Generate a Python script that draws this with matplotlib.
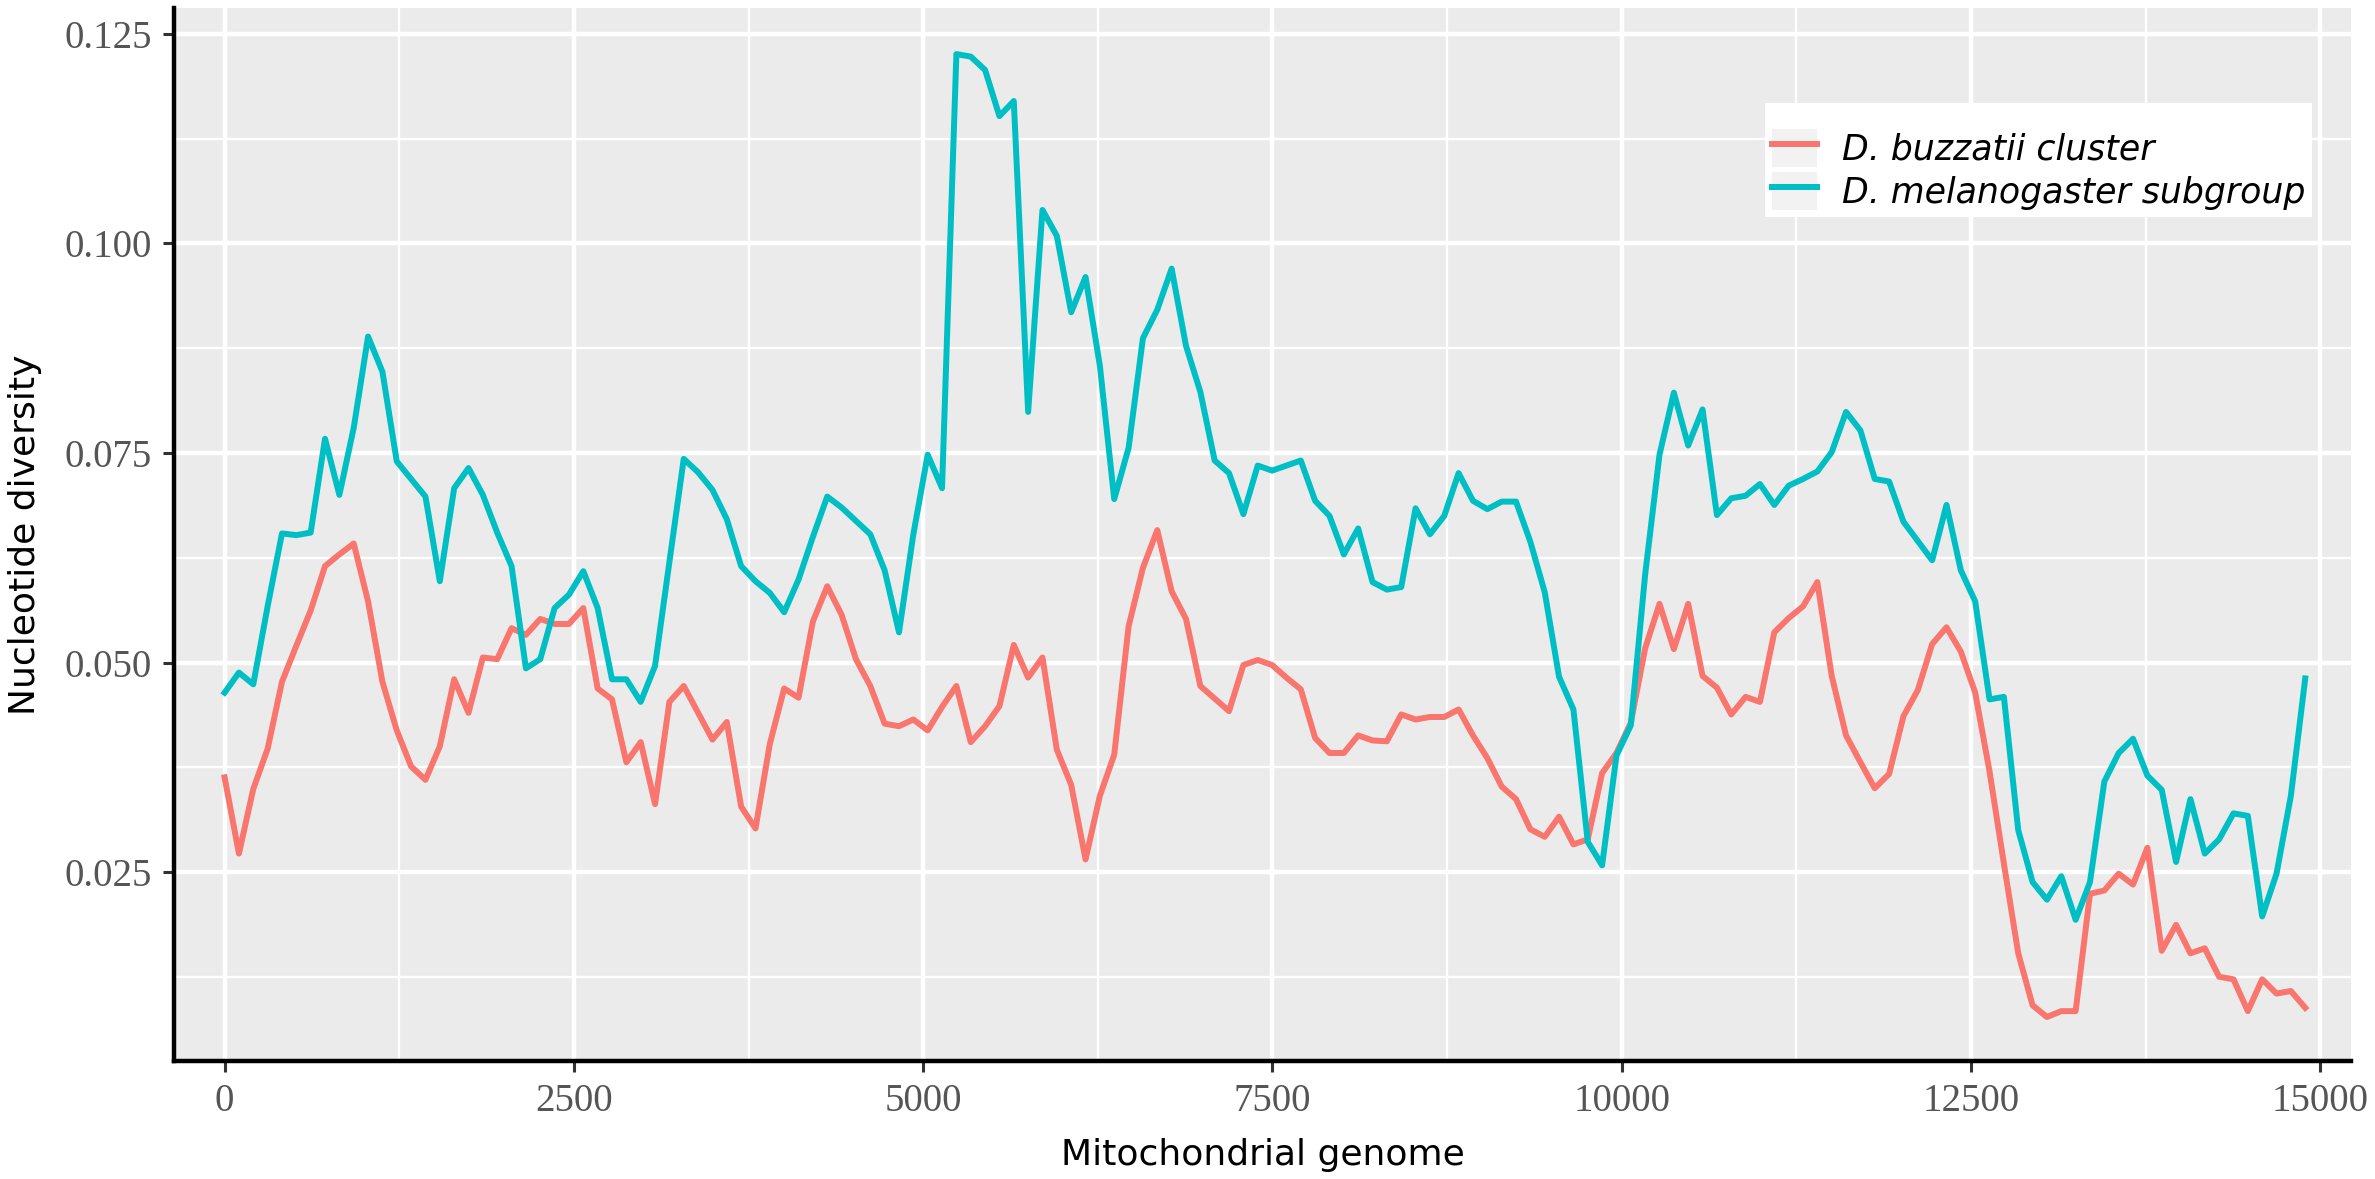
import numpy as np
import matplotlib
matplotlib.use("Agg")
import matplotlib.pyplot as plt
from matplotlib.patches import Rectangle
from matplotlib.lines import Line2D

# sliding-window nucleotide diversity along the mitochondrial genome
window_step = 102.7

buzzatii = [
    0.0363, 0.0272, 0.0349, 0.0397, 0.0477, 0.0520, 0.0562, 0.0615, 0.0629, 0.0642,
    0.0573, 0.0477, 0.0419, 0.0376, 0.0360, 0.0400, 0.0480, 0.0440, 0.0506, 0.0504,
    0.0541, 0.0533, 0.0552, 0.0546, 0.0546, 0.0565,
    0.0469, 0.0456, 0.0381, 0.0405, 0.0331, 0.0453, 0.0472, 0.0440, 0.0408, 0.0429,
    0.0328, 0.0302, 0.0403, 0.0469, 0.0458, 0.0549, 0.0591, 0.0557, 0.0504, 0.0472,
    0.0427, 0.0424, 0.0432, 0.0419, 0.0447,
    0.0472, 0.0405, 0.0424, 0.0448, 0.0521, 0.0482, 0.0506, 0.0396, 0.0354, 0.0265,
    0.0341, 0.0390, 0.0543, 0.0613, 0.0658, 0.0585, 0.0552, 0.0472, 0.0457, 0.0442,
    0.0497, 0.0503, 0.0497, 0.0482, 0.0468,
    0.0410, 0.0392, 0.0392, 0.0413, 0.0407, 0.0406, 0.0438, 0.0432, 0.0435, 0.0435,
    0.0444, 0.0413, 0.0386, 0.0352, 0.0337, 0.0301, 0.0292, 0.0316, 0.0283, 0.0289,
    0.0368, 0.0392, 0.0428, 0.0517,
    0.0570, 0.0516, 0.0570, 0.0484, 0.0470, 0.0438, 0.0459, 0.0453, 0.0536, 0.0553,
    0.0567, 0.0596, 0.0484, 0.0413, 0.0381, 0.0350, 0.0367, 0.0436, 0.0467, 0.0522,
    0.0542, 0.0513, 0.0464, 0.0370, 0.0260,
    0.0153, 0.0091, 0.0077, 0.0084, 0.0084, 0.0224, 0.0228, 0.0248, 0.0235, 0.0279,
    0.0156, 0.0187, 0.0153, 0.0159, 0.0125, 0.0122, 0.0084, 0.0122, 0.0105, 0.0108,
    0.0088,
]

melanogaster = [
    0.0464, 0.0488, 0.0474, 0.0567, 0.0654, 0.0652, 0.0655, 0.0767, 0.0700, 0.0780,
    0.0889, 0.0847, 0.0740, 0.0719, 0.0698, 0.0597, 0.0708, 0.0732, 0.0700, 0.0655,
    0.0615, 0.0493, 0.0504, 0.0565, 0.0581, 0.0609,
    0.0565, 0.0480, 0.0480, 0.0453, 0.0496, 0.0620, 0.0743, 0.0727, 0.0706, 0.0671,
    0.0615, 0.0597, 0.0583, 0.0560, 0.0599, 0.0650, 0.0698, 0.0685, 0.0669, 0.0653,
    0.0610, 0.0536, 0.0653, 0.0748, 0.0708,
    0.1226, 0.1223, 0.1207, 0.1152, 0.1170, 0.0799, 0.1040, 0.1009, 0.0918, 0.0960,
    0.0854, 0.0695, 0.0756, 0.0887, 0.0921, 0.0970, 0.0878, 0.0823, 0.0741, 0.0726,
    0.0677, 0.0735, 0.0729, 0.0735, 0.0741,
    0.0693, 0.0675, 0.0629, 0.0660, 0.0596, 0.0587, 0.0590, 0.0684, 0.0653, 0.0675,
    0.0726, 0.0693, 0.0683, 0.0692, 0.0692, 0.0644, 0.0584, 0.0483, 0.0444, 0.0286,
    0.0258, 0.0389, 0.0425, 0.0605,
    0.0748, 0.0822, 0.0759, 0.0802, 0.0676, 0.0696, 0.0699, 0.0713, 0.0688, 0.0711,
    0.0719, 0.0728, 0.0751, 0.0799, 0.0777, 0.0719, 0.0716, 0.0668, 0.0645, 0.0622,
    0.0688, 0.0610, 0.0573, 0.0456, 0.0459,
    0.0300, 0.0238, 0.0217, 0.0245, 0.0193, 0.0238, 0.0358, 0.0392, 0.0409, 0.0365,
    0.0348, 0.0262, 0.0337, 0.0272, 0.0289, 0.0320, 0.0317, 0.0197, 0.0248, 0.0341,
    0.0481,
]

series_labels = ["D. buzzatii cluster", "D. melanogaster subgroup"]
series_colors = ["#F8766D", "#00BFC4"]

x_ticks = [0, 2500, 5000, 7500, 10000, 12500, 15000]
x_minor = [1250, 3750, 6250, 8750, 11250, 13750]
y_ticks = [0.025, 0.050, 0.075, 0.100, 0.125]
y_minor = [0.0125, 0.0375, 0.0625, 0.0875, 0.1125]

position = np.arange(len(buzzatii)) * window_step

fig = plt.figure(figsize=(23.75, 11.79), dpi=100)
ax = fig.add_axes([0.07326, 0.10008, 0.91663, 0.89313])
ax.set_facecolor("#EBEBEB")

ax.plot(position, buzzatii, color=series_colors[0], lw=4.3, zorder=3)
ax.plot(position, melanogaster, color=series_colors[1], lw=4.3, zorder=3)

ax.set_xlim(-362, 15219)
ax.set_ylim(0.00245, 0.1281)

ax.set_xticks(x_ticks)
ax.set_xticks(x_minor, minor=True)
ax.set_yticks(y_ticks)
ax.set_yticks(y_minor, minor=True)
ax.set_yticklabels(["%.3f" % v for v in y_ticks])

ax.set_axisbelow(True)
ax.grid(which="major", color="white", lw=3.2)
ax.grid(which="minor", color="white", lw=1.7)

for side in ["top", "right"]:
    ax.spines[side].set_visible(False)
for side in ["left", "bottom"]:
    ax.spines[side].set_color("black")
    ax.spines[side].set_linewidth(3.2)

ax.tick_params(which="major", length=8, width=2.2, color="#333333",
               labelcolor="#555555", labelsize=28)
ax.tick_params(axis="y", which="major", pad=8)
ax.tick_params(axis="x", which="major", pad=8)
ax.tick_params(which="minor", length=0)
for lab in ax.get_xticklabels() + ax.get_yticklabels():
    lab.set_fontfamily("Liberation Serif")

ax.set_xlabel("Mitochondrial genome", fontsize=26, family="DejaVu Sans", va="center")
ax.xaxis.set_label_coords(0.5, -0.0893)
ax.set_ylabel("Nucleotide diversity", fontsize=26, family="DejaVu Sans", va="center")
ax.yaxis.set_label_coords(-0.0684, 0.5)

handles = []
for c in series_colors:
    key = Rectangle((0, 0), 1, 1, facecolor="#F2F2F2", edgecolor="none")
    line = Line2D([0], [0], color=c, lw=4.3)
    handles.append((key, line))

leg = ax.legend(handles, series_labels, loc="upper right", bbox_to_anchor=(0.9821, 0.9098),
                borderaxespad=0, frameon=True, fancybox=False, framealpha=1,
                facecolor="white", edgecolor="white", prop={"family": "DejaVu Sans",
                                                             "style": "italic", "size": 25},
                handlelength=1.3, handleheight=1.3, handletextpad=0.7,
                labelspacing=0.15, borderpad=0.2, title=" ", title_fontsize=10)
leg.get_frame().set_linewidth(0)

fig.savefig("out.png", dpi=100, facecolor="white")
